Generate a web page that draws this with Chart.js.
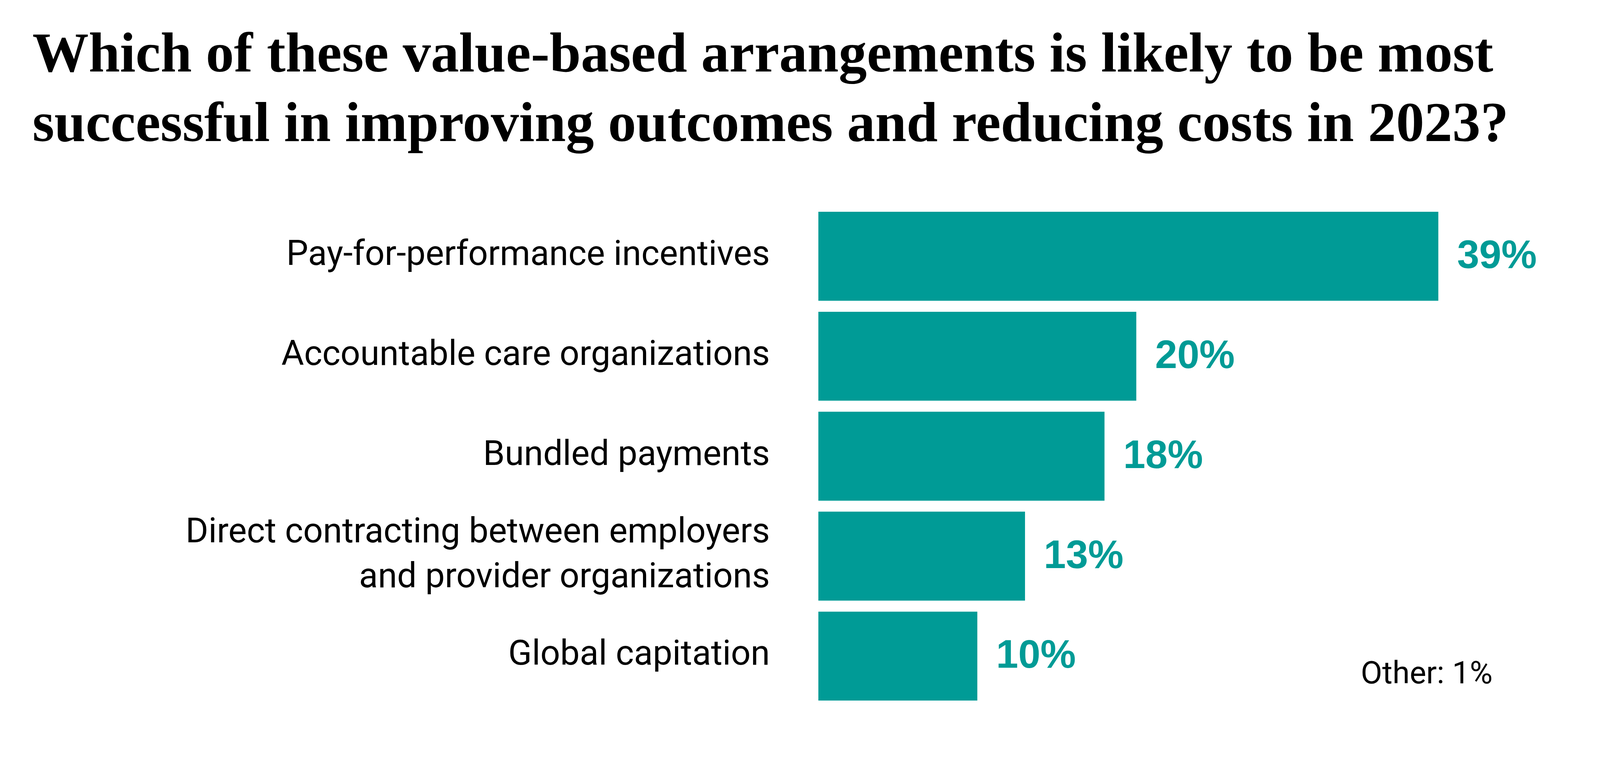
<!DOCTYPE html>
<html>
<head>
<meta charset="utf-8">
<script src="https://cdn.jsdelivr.net/npm/chart.js@4.4.1/dist/chart.umd.min.js"></script>
<style>
  html, body { margin: 0; padding: 0; background: #fff; }
  #wrap { width: 4333px; height: 1981px; }
</style>
</head>
<body>
<div id="wrap"><canvas id="chart" width="4333" height="1981"></canvas></div>
<script>
// ─── Данные ────────────────────────────────────────────────────────────────

const TITLE_LINES = [
    "Which of these value-based arrangements is likely to be most",
    "successful in improving outcomes and reducing costs in 2023?",
];

const CATEGORIES = [
    "Pay-for-performance incentives",
    "Accountable care organizations",
    "Bundled payments",
    ["Direct contracting between employers", "and provider organizations"],
    "Global capitation",
];

const SHARES = [39, 20, 18, 13, 10];   // %
const OTHER_NOTE = "Other: 1%";
const X_MAX = 46;

// ─── Стиль ─────────────────────────────────────────────────────────────────

const TEAL = "#009b96";
const INK = "#000000";

// подписи значений справа от баров
const valueLabels = {
    id: "valueLabels",
    afterDatasetsDraw(chart) {
        const {ctx} = chart;
        const meta = chart.getDatasetMeta(0);
        ctx.save();
        ctx.font = "700 102px 'Liberation Sans'";
        ctx.fillStyle = TEAL;
        ctx.textAlign = "left";
        ctx.textBaseline = "middle";
        meta.data.forEach((bar, i) => {
            ctx.fillText(`${SHARES[i]}%`, bar.x + 48, bar.y + 2);
        });
        ctx.restore();
    },
};

// сноска "Other" в правом нижнем углу
const otherNote = {
    id: "otherNote",
    afterDraw(chart) {
        const {ctx, chartArea} = chart;
        ctx.save();
        ctx.font = "400 80px Roboto";
        ctx.fillStyle = INK;
        ctx.textAlign = "right";
        ctx.textBaseline = "alphabetic";
        ctx.fillText(OTHER_NOTE, chartArea.right - 146, chartArea.bottom - 58);
        ctx.restore();
    },
};

new Chart(document.getElementById("chart"), {
    type: "bar",
    data: {
        labels: CATEGORIES,
        datasets: [{
            data: SHARES,
            backgroundColor: TEAL,
            borderWidth: 0,
            categoryPercentage: 1,
            barPercentage: 0.89,
        }],
    },
    options: {
        indexAxis: "y",
        responsive: false,
        devicePixelRatio: 1,
        animation: false,
        layout: {padding: {left: 83, right: 366, top: 0, bottom: 116}},
        scales: {
            x: {display: false, min: 0, max: X_MAX},
            y: {
                grid: {display: false},
                border: {display: false},
                ticks: {
                    color: INK,
                    padding: 116,
                    font: {family: "Roboto", weight: 400, size: 89, lineHeight: 1.3},
                },
                afterFit(scale) { scale.width = 2012; },
            },
        },
        plugins: {
            legend: {display: false},
            tooltip: {enabled: false},
            title: {
                display: true,
                text: TITLE_LINES,
                align: "start",
                color: "#000",
                font: {family: "'Liberation Serif'", weight: 700, size: 144, lineHeight: 1.236},
                padding: {top: 57, bottom: 115},
            },
        },
    },
    plugins: [valueLabels, otherNote],
});
</script>
</body>
</html>
